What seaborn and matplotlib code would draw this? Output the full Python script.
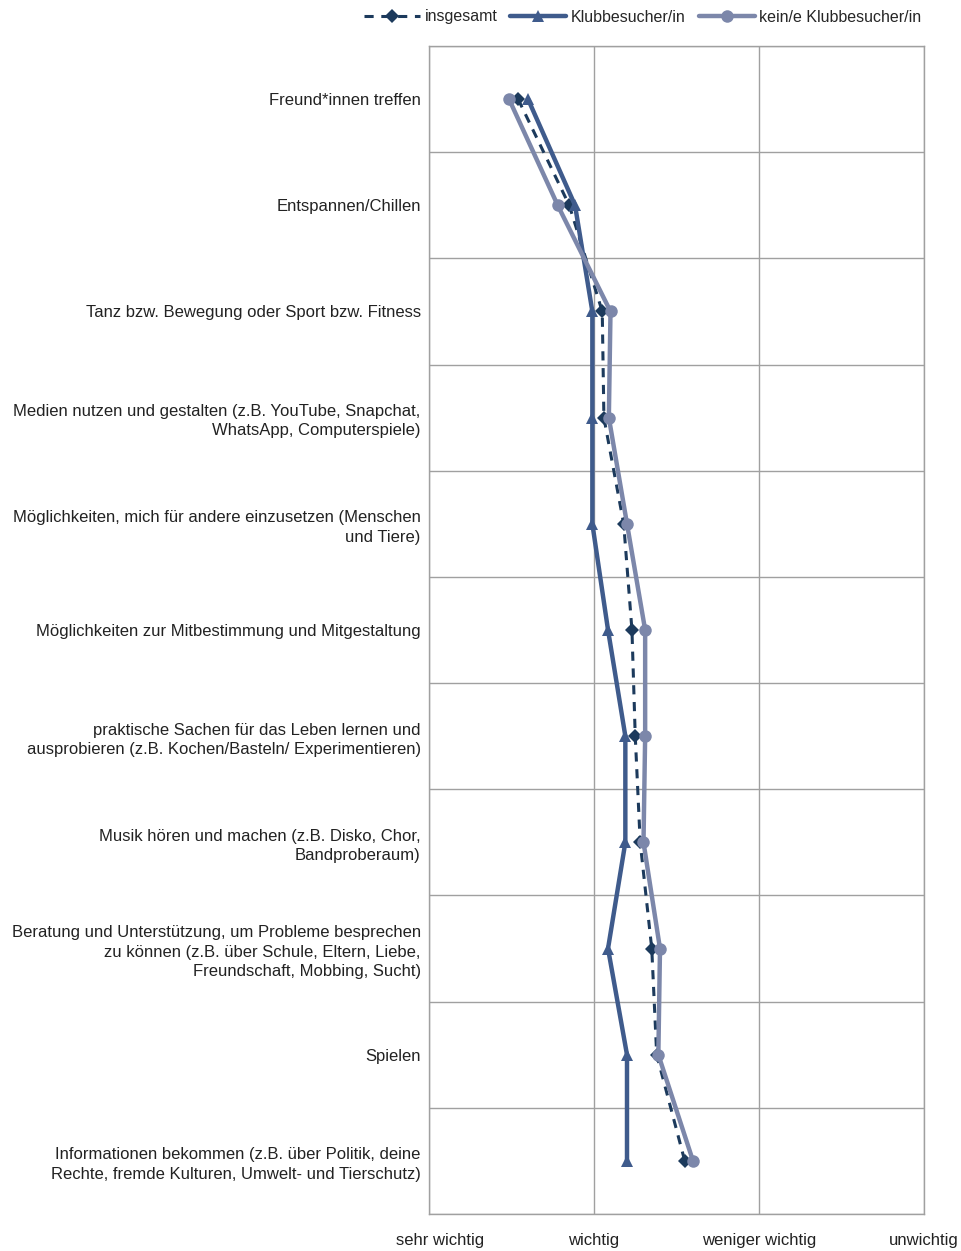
import numpy as np
import pandas as pd
import matplotlib
matplotlib.use("Agg")
import matplotlib.pyplot as plt
import matplotlib.transforms as mtransforms
import seaborn as sns

# Data (1 = sehr wichtig ... 4 = unwichtig)
categories = [
    "Freund*innen treffen",
    "Entspannen/Chillen",
    "Tanz bzw. Bewegung oder Sport bzw. Fitness",
    "Medien nutzen und gestalten (z.B. YouTube, Snapchat,\nWhatsApp, Computerspiele)",
    "Möglichkeiten, mich für andere einzusetzen (Menschen\nund Tiere)",
    "Möglichkeiten zur Mitbestimmung und Mitgestaltung",
    "praktische Sachen für das Leben lernen und\nausprobieren (z.B. Kochen/Basteln/ Experimentieren)",
    "Musik hören und machen (z.B. Disko, Chor,\nBandproberaum)",
    "Beratung und Unterstützung, um Probleme besprechen\nzu können (z.B. über Schule, Eltern, Liebe,\nFreundschaft, Mobbing, Sucht)",
    "Spielen",
    "Informationen bekommen (z.B. über Politik, deine\nRechte, fremde Kulturen, Umwelt- und Tierschutz)",
]
insgesamt = [1.54, 1.85, 2.05, 2.06, 2.18, 2.23, 2.25, 2.28, 2.35, 2.38, 2.55]
klub = [1.60, 1.885, 1.99, 1.99, 1.99, 2.085, 2.19, 2.19, 2.085, 2.20, 2.20]
kein_klub = [1.485, 1.78, 2.10, 2.09, 2.20, 2.31, 2.31, 2.30, 2.40, 2.39, 2.60]

x_ticks = [1, 2, 3, 4]
x_labels = ["sehr wichtig", "wichtig", "weniger wichtig", "unwichtig"]

sns.set_style("white")
plt.rcParams["font.family"] = ["Liberation Sans", "DejaVu Sans"]

df = pd.DataFrame({
    "pos": np.arange(len(categories)),
    "insgesamt": insgesamt,
    "klub": klub,
    "kein": kein_klub,
})

fig = plt.figure(figsize=(9.62, 12.51), dpi=100)
ax = fig.add_axes([429 / 962, 1 - 1214 / 1251, (924 - 429) / 962, (1214 - 46) / 1251])

c_ins = "#1c3a5c"
c_klub = "#3f5b8c"
c_kein = "#7c87aa"

sns.lineplot(data=df, x="insgesamt", y="pos", orient="y", sort=False, ax=ax,
             color=c_ins, linewidth=2.2, linestyle=(0, (3, 2.5)), marker="D",
             markersize=7, markeredgewidth=0, label="insgesamt", zorder=3)
sns.lineplot(data=df, x="klub", y="pos", orient="y", sort=False, ax=ax,
             color=c_klub, linewidth=3.2, marker="^", markersize=9,
             markeredgewidth=0, label="Klubbesucher/in", zorder=4)
sns.lineplot(data=df, x="kein", y="pos", orient="y", sort=False, ax=ax,
             color=c_kein, linewidth=3.2, marker="o", markersize=9,
             markeredgewidth=0, label="kein/e Klubbesucher/in", zorder=5)

ax.set_xlim(1, 4)
ax.set_ylim(len(categories) - 0.5, -0.5)
ax.set_xticks(x_ticks)
ax.set_xticklabels(x_labels, fontsize=12, color="#222222")
ax.set_yticks(np.arange(len(categories)))
ax.set_yticklabels(categories, fontsize=12, color="#222222", linespacing=1.35)
ax.set_yticks(np.arange(len(categories) + 1) - 0.5, minor=True)
ax.tick_params(axis="both", which="both", length=0)
ax.tick_params(axis="x", pad=14)
ax.tick_params(axis="y", pad=6)
ax.xaxis.grid(True, color="#a0a0a0", linewidth=1)
ax.yaxis.grid(True, which="minor", color="#a0a0a0", linewidth=1)
ax.yaxis.grid(False, which="major")
ax.set_axisbelow(True)
for s in ax.spines.values():
    s.set_color("#a0a0a0")
    s.set_linewidth(1)
ax.set_xlabel("")
ax.set_ylabel("")

# first x label sits a little right of its grid line in the original
first = ax.get_xticklabels()[0]
first.set_transform(first.get_transform() + mtransforms.ScaledTranslation(0.11, 0, fig.dpi_scale_trans))

ax.legend(loc="center", bbox_to_anchor=(0.432, 1 + 29 / 1168), ncol=3, frameon=False,
          fontsize=11.5, handlelength=3.5, columnspacing=0.8, handletextpad=0.3,
          borderaxespad=0)

fig.savefig("out.png", dpi=100)
